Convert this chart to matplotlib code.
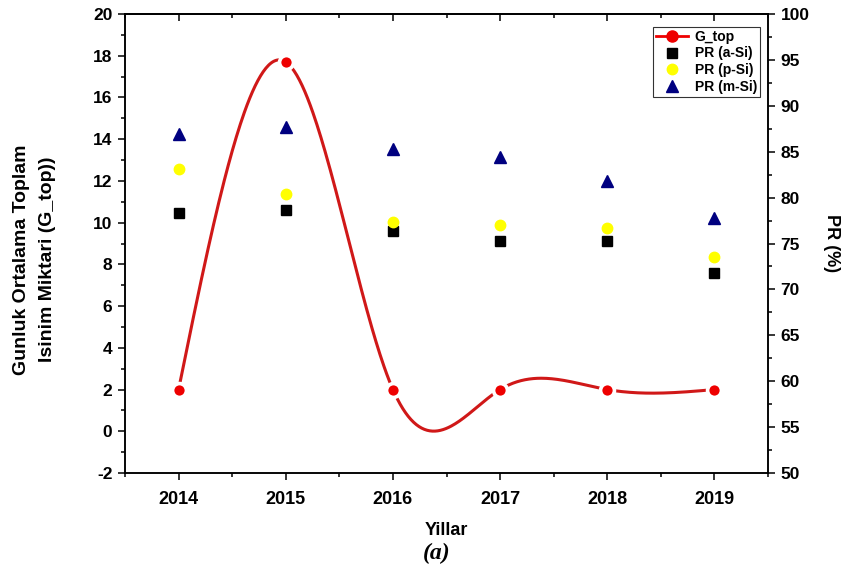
import numpy as np
import matplotlib
matplotlib.use("Agg")
import matplotlib.pyplot as plt
from matplotlib.ticker import MultipleLocator

plt.rcParams['font.family'] = ['Liberation Sans', 'DejaVu Sans']
plt.rcParams['font.weight'] = 'bold'
plt.rcParams['axes.unicode_minus'] = False

years = [2014, 2015, 2016, 2017, 2018, 2019]
g_top = [2.0, 17.7, 2.0, 2.0, 2.0, 2.0]
pr_asi = [78.3, 78.6, 76.4, 75.3, 75.3, 71.8]
pr_psi = [83.1, 80.4, 77.3, 77.0, 76.7, 73.5]
pr_msi = [86.9, 87.7, 85.3, 84.4, 81.8, 77.8]


def natural_spline(x, y, n=400):
    # plain natural cubic spline, no scipy needed
    x = np.asarray(x, float)
    y = np.asarray(y, float)
    k = len(x)
    h = np.diff(x)
    A = np.zeros((k, k))
    b = np.zeros(k)
    A[0, 0] = A[-1, -1] = 1
    for i in range(1, k - 1):
        A[i, i - 1] = h[i - 1]
        A[i, i] = 2 * (h[i - 1] + h[i])
        A[i, i + 1] = h[i]
        b[i] = 6 * ((y[i + 1] - y[i]) / h[i] - (y[i] - y[i - 1]) / h[i - 1])
    m = np.linalg.solve(A, b)
    xs = np.linspace(x[0], x[-1], n)
    idx = np.clip(np.searchsorted(x, xs) - 1, 0, k - 2)
    x0, x1 = x[idx], x[idx + 1]
    hh = x1 - x0
    t0, t1 = x1 - xs, xs - x0
    ys = (m[idx] * t0**3 + m[idx + 1] * t1**3) / (6 * hh) \
        + (y[idx] / hh - m[idx] * hh / 6) * t0 \
        + (y[idx + 1] / hh - m[idx + 1] * hh / 6) * t1
    return xs, ys


fig = plt.figure(figsize=(8.48, 5.72), dpi=100)
ax = fig.add_axes([0.1474, 0.1731, 0.7583, 0.8024])
ax2 = ax.twinx()

xs, ys = natural_spline(years, g_top)
ax.plot(xs, ys, color='#d01818', lw=2.2, zorder=2)
ax.plot(years, g_top, 'o', color='#ee0000', ms=10, mec='white', mew=2.6, zorder=3)

ax2.plot(years, pr_asi, 's', color='black', ms=6.5, ls='none')
ax2.plot(years, pr_psi, 'o', color='#ffff00', ms=7.5, ls='none')
ax2.plot(years, pr_msi, '^', color='#000080', ms=8.5, ls='none')

ax.set_xlim(2013.5, 2019.5)
ax.set_ylim(-2, 20)
ax2.set_ylim(50, 100)

ax.xaxis.set_major_locator(MultipleLocator(1))
ax.xaxis.set_minor_locator(MultipleLocator(0.5))
ax.yaxis.set_major_locator(MultipleLocator(2))
ax.yaxis.set_minor_locator(MultipleLocator(1))
ax2.yaxis.set_major_locator(MultipleLocator(5))
ax2.yaxis.set_minor_locator(MultipleLocator(2.5))

for a in (ax, ax2):
    a.tick_params(which='major', direction='out', length=5, width=1.1, labelsize=12.5, pad=4)
    a.tick_params(which='minor', direction='out', length=3, width=1.1)
    for s in a.spines.values():
        s.set_linewidth(1.1)
ax.tick_params(axis='x', which='major', labelsize=13, pad=8)

# top axis: ticks pointing inward, no labels
top = ax.secondary_xaxis('top')
top.xaxis.set_major_locator(MultipleLocator(1))
top.xaxis.set_minor_locator(MultipleLocator(0.5))
top.tick_params(which='major', direction='in', length=5, width=1.1, labeltop=False)
top.tick_params(which='minor', direction='in', length=3, width=1.1)
top.spines['top'].set_linewidth(1.1)

for lab in ax.get_xticklabels() + ax.get_yticklabels() + ax2.get_yticklabels():
    lab.set_fontweight('bold')

ax.set_ylabel('Gunluk Ortalama Toplam\nIsinim Miktari (G_top))', fontsize=14,
              fontweight='bold', linespacing=1.65)
ax.yaxis.set_label_coords(-0.108, 0.465)
ax2.set_ylabel('PR (%)', fontsize=13, fontweight='bold', rotation=-90, labelpad=22)
ax.set_xlabel('Yillar', fontsize=13, fontweight='bold', labelpad=10)

fig.text(0.515, 0.033, '(a)', family=['Liberation Serif', 'DejaVu Serif'],
         style='italic', fontweight='bold', fontsize=17, ha='center', va='center')

h1 = ax.plot([], [], '-o', color='#ee0000', ms=8, lw=2, label='G_top')[0]
hs = ax2.get_lines()
leg = ax2.legend([h1] + hs, ['G_top', 'PR (a-Si)', 'PR (p-Si)', 'PR (m-Si)'],
                 loc='upper right', bbox_to_anchor=(0.987, 0.972),
                 fontsize=10, frameon=True, fancybox=False, handlelength=2.3,
                 borderpad=0.2, labelspacing=0.2, handletextpad=0.5,
                 borderaxespad=0)
leg.get_frame().set_edgecolor('black')
leg.get_frame().set_linewidth(0.8)
for t in leg.get_texts():
    t.set_fontweight('bold')

fig.savefig('out.png', dpi=100)
